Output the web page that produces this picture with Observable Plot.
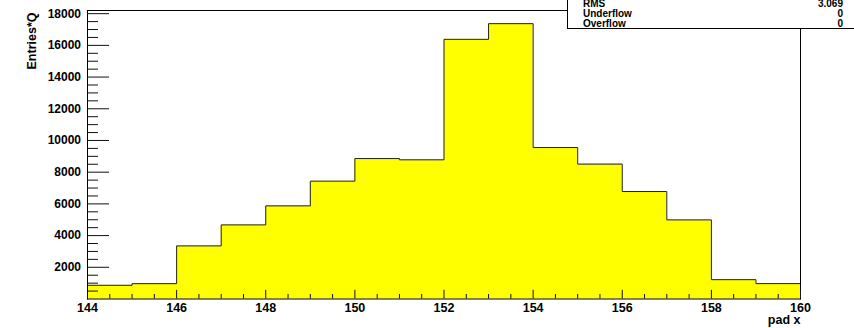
<!DOCTYPE html>
<html><head><meta charset="utf-8">
<script src="https://cdn.jsdelivr.net/npm/d3@7"></script>
<script src="https://cdn.jsdelivr.net/npm/@observablehq/plot@0.6"></script>
<style>
body{margin:0;background:#fff}
#wrap{position:relative;width:854px;height:328px;overflow:hidden}
svg text{font-family:"Liberation Sans",Arial,sans-serif;font-weight:bold}
</style></head>
<body><div id="wrap"></div>
<script>
// bin lower edges (width 1) and bin contents
const binLow = [144,145,146,147,148,149,150,151,152,153,154,155,156,157,158,159];
const binValue = [865,967,3350,4675,5875,7435,8860,8780,16380,17370,9555,8510,6780,4990,1220,970];
const binWidth = 1;
const xMajorTicks = [144,146,148,150,152,154,156,158,160];
const xMinorTicks = d3.range(144, 160.01, 0.5).filter(v => v % 2 !== 0);
const yMajorTicks = [2000,4000,6000,8000,10000,12000,14000,16000,18000];
const yMinorTicks = d3.range(500, 18200, 500).filter(v => v % 2000 !== 0);
const statNames = ["RMS","Underflow","Overflow"];
const statValues = ["3.069","0","0"];
const xTitle = "pad x";
const yTitle = "Entries*Q";

// step outline of the histogram built from the bins
const outline = [{x: binLow[0], y: 0}];
binLow.forEach((lo,i) => { outline.push({x: lo, y: binValue[i]}); outline.push({x: lo + binWidth, y: binValue[i]}); });
outline.push({x: binLow[binLow.length-1] + binWidth, y: 0});

const chart = Plot.plot({
  width: 854, height: 328,
  marginLeft: 87, marginRight: 54, marginTop: 10, marginBottom: 29.5,
  style: {fontFamily: "Liberation Sans", fontWeight: "bold", fontSize: "12px", background: "#fff"},
  x: {domain: [144,160]},
  y: {domain: [0,18200]},
  marks: [
    Plot.area(outline, {x1: "x", y1: () => 0, y2: "y", fill: "#ffff00"}),
    Plot.line(outline, {x: "x", y: "y", stroke: "#222", strokeWidth: 1}),
    Plot.frame({stroke: "#000", strokeWidth: 1}),
    Plot.axisY(yMajorTicks, {anchor: "left", tickSize: -22, tickFormat: () => "", label: null, stroke: "#111"}),
    Plot.axisY(yMinorTicks, {anchor: "left", tickSize: -11, tickFormat: () => "", label: null, stroke: "#111"}),
    Plot.axisY(yMajorTicks, {anchor: "left", tickSize: 0, tickPadding: 6.5, tickFormat: d => String(d), label: null, fill: "#000", fontSize: 12}),
    Plot.axisX(xMajorTicks, {anchor: "bottom", tickSize: -8.7, tickFormat: () => "", label: null, stroke: "#111"}),
    Plot.axisX(xMinorTicks, {anchor: "bottom", tickSize: -4.5, tickFormat: () => "", label: null, stroke: "#111"}),
    Plot.axisX(xMajorTicks, {anchor: "bottom", tickSize: 0, tickPadding: 4, tickFormat: d => String(d), label: null, fill: "#000", fontSize: 12.5}),
    Plot.text([yTitle], {text: d => d, frameAnchor: "top-left", rotate: -90, textAnchor: "end", dx: -60, dy: 2, fontSize: 12.5, fill: "#000"}),
    Plot.text([xTitle], {text: d => d, frameAnchor: "bottom-right", textAnchor: "end", dy: 24.5, fontSize: 12.5, fill: "#000"})
  ]
});
document.getElementById("wrap").appendChild(chart);

// statistics box (top right, partially outside the canvas)
const svg = d3.select(chart);
const g = svg.append("g").attr("text-anchor", "start");
g.append("rect").attr("x", 567.5).attr("y", -20).attr("width", 320).attr("height", 48.5)
  .attr("fill", "#fff").attr("stroke", "#000").attr("stroke-width", 1);
statNames.forEach((n,i) => {
  const yb = 6.5 + i*10;
  g.append("text").attr("x", 583).attr("y", yb).attr("font-size", 10).attr("fill", "#000").attr("text-anchor", "start").text(n);
  g.append("text").attr("x", 843).attr("y", yb).attr("font-size", 10).attr("fill", "#000").attr("text-anchor", "end").text(statValues[i]);
});
</script></body></html>
